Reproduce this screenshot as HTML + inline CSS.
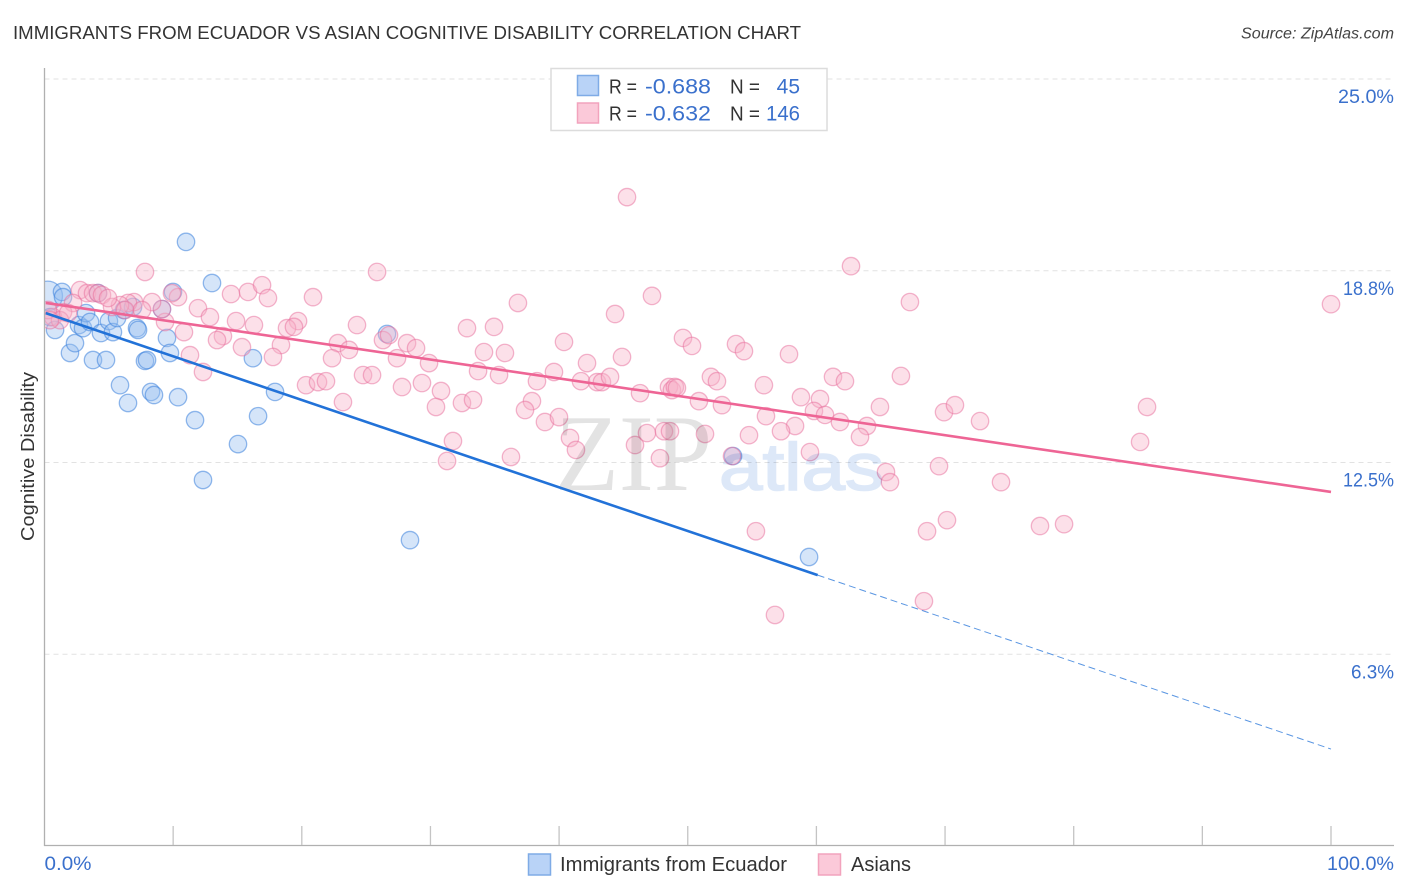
<!DOCTYPE html>
<html lang="en">
<head>
<meta charset="utf-8">
<title>Immigrants from Ecuador vs Asian Cognitive Disability Correlation Chart</title>
<style>
html,body{margin:0;padding:0;background:#fff;width:1406px;height:892px;overflow:hidden}
svg{display:block}
text{font-family:"Liberation Sans",sans-serif}
</style>
</head>
<body>
<svg id="chart" width="1406" height="892" viewBox="0 0 1406 892" xmlns="http://www.w3.org/2000/svg">
  <defs><clipPath id="plot-clip"><rect x="44.5" y="60" width="1350" height="786"/></clipPath></defs>
  <rect x="0" y="0" width="1406" height="892" fill="#fff"/>
  <text x="13" y="39" font-size="18.5" fill="#333" textLength="788" lengthAdjust="spacingAndGlyphs">IMMIGRANTS FROM ECUADOR VS ASIAN COGNITIVE DISABILITY CORRELATION CHART</text>
  <text x="1394" y="38.500" font-size="15.500" font-style="italic" fill="#444" text-anchor="end" textLength="153" lengthAdjust="spacingAndGlyphs">Source: ZipAtlas.com</text>
  <g id="grid"></g>
  <g id="points" clip-path="url(#plot-clip)"></g>
  <g style="mix-blend-mode:multiply">
    <text x="555" y="490" font-size="109" fill="#e3e3e3" textLength="157" lengthAdjust="spacingAndGlyphs" style="font-family:'Liberation Serif',serif">ZIP</text>
    <text x="719" y="490" font-size="67" fill="#dde8f8" stroke="#dde8f8" stroke-width="1.6" textLength="165" lengthAdjust="spacingAndGlyphs">atlas</text>
  </g>
  <g id="trends"></g>
  <g id="axes"></g>
  <text transform="translate(34 541) rotate(-90)" font-size="18.500" fill="#333" textLength="169" lengthAdjust="spacingAndGlyphs">Cognitive Disability</text>

  <g>
    <rect x="551" y="68.500" width="276" height="62" fill="#fff" stroke="#dcdcdc" stroke-width="1.500"/>
    <rect x="577.500" y="75.500" width="21" height="20" fill="#b9d3f7" stroke="#7fabe6" stroke-width="1.500"/>
    <rect x="577.500" y="103" width="21" height="20" fill="#fbc9d9" stroke="#f2a3bd" stroke-width="1.500"/>
    <text x="609" y="93.500" font-size="20" fill="#333" textLength="28" lengthAdjust="spacingAndGlyphs">R =</text>
    <text x="711" y="93.500" font-size="21" fill="#3a70cc" text-anchor="end" textLength="66" lengthAdjust="spacingAndGlyphs">-0.688</text>
    <text x="730" y="93.500" font-size="20" fill="#333" textLength="30" lengthAdjust="spacingAndGlyphs">N =</text>
    <text x="800" y="93.500" font-size="21" fill="#3a70cc" text-anchor="end">45</text>
    <text x="609" y="120.500" font-size="20" fill="#333" textLength="28" lengthAdjust="spacingAndGlyphs">R =</text>
    <text x="711" y="120.500" font-size="21" fill="#3a70cc" text-anchor="end" textLength="66" lengthAdjust="spacingAndGlyphs">-0.632</text>
    <text x="730" y="120.500" font-size="20" fill="#333" textLength="30" lengthAdjust="spacingAndGlyphs">N =</text>
    <text x="800" y="120.500" font-size="21" fill="#3a70cc" text-anchor="end" textLength="34" lengthAdjust="spacingAndGlyphs">146</text>
  </g>

  <g>
    <rect x="528.500" y="854" width="22" height="21" fill="#b9d3f7" stroke="#7fabe6" stroke-width="1.500"/>
    <text x="560" y="871" font-size="20" fill="#333" textLength="227" lengthAdjust="spacingAndGlyphs">Immigrants from Ecuador</text>
    <rect x="818.500" y="854" width="22" height="21" fill="#fbc9d9" stroke="#f2a3bd" stroke-width="1.500"/>
    <text x="851" y="871" font-size="20" fill="#333" textLength="60" lengthAdjust="spacingAndGlyphs">Asians</text>
  </g>
</svg>
<script>
const ecuadorX = [0.25,0.43,1.36,1.44,0.82,1.98,2.37,2.68,2.99,3.23,3.54,3.77,4.16,4.39,4.78,5.01,5.32,5.64,5.87,6.18,6.49,6.88,7.19,7.27,7.81,7.97,8.28,8.51,9.13,9.52,9.75,9.99,10.38,11.0,11.7,12.32,13.02,15.04,16.2,16.6,17.92,26.62,28.41,53.52,59.43];
const ecuadorY = [17.93,17.24,18.06,17.89,16.82,16.07,16.39,16.98,16.88,17.37,17.08,15.84,18.02,16.72,15.84,17.11,16.75,17.21,15.02,17.47,14.44,17.57,16.88,16.82,15.81,15.84,14.8,14.7,17.5,16.56,16.07,18.06,14.63,19.69,13.88,11.93,18.35,13.1,15.9,14.01,14.8,16.69,9.97,12.71,9.42];
const ecuadorWeights = [1.7];
const asiansX = [7.81,2.76,3.3,3.77,4.16,4.47,14.5,15.82,16.91,17.37,20.87,10.38,9.91,11.93,12.86,14.89,16.28,19.71,18.85,19.39,13.87,13.41,10.84,9.37,9.13,8.36,6.96,6.49,5.87,5.25,6.26,7.58,2.22,4.94,1.44,0.66,1.2,0.27,1.83,0.43,22.81,22.35,23.67,18.38,17.76,15.35,11.31,12.32,20.33,21.26,21.88,23.2,24.29,25.85,26.31,26.78,28.18,28.88,27.4,29.89,24.76,25.46,27.79,29.34,30.82,30.43,32.45,33.31,31.75,31.29,36.26,32.84,34.94,34.16,35.79,33.7,35.33,36.8,44.35,47.22,40.38,42.17,44.89,39.6,38.28,41.7,42.95,43.33,43.96,46.29,48.54,48.77,37.89,37.35,38.9,39.99,40.85,41.31,45.9,46.83,48.15,47.84,67.27,49.63,50.33,53.75,54.37,57.87,51.8,52.27,49.0,49.16,55.92,50.87,52.66,61.29,62.22,66.57,58.8,60.28,59.81,60.67,61.83,64.94,63.93,63.39,69.92,70.77,72.72,56.08,58.34,57.25,54.76,51.34,48.62,53.44,59.5,65.41,65.72,69.53,55.3,68.6,70.15,45.28,62.69,100,85.7,85.16,74.35,77.38,79.25,68.36,56.78];
const asiansY = [18.71,18.12,18.02,18.02,18.02,17.96,17.99,18.06,18.28,17.86,17.89,17.89,18.02,17.53,17.24,17.11,16.98,17.11,16.88,16.92,16.62,16.49,16.75,17.08,17.5,17.73,17.73,17.7,17.63,17.57,17.47,17.47,17.7,17.86,17.4,17.24,17.14,17.47,17.37,17.14,16.39,15.9,16.17,16.33,15.94,16.26,16.0,15.45,15.02,15.12,15.15,14.47,16.98,18.71,16.49,16.65,16.39,16.23,15.9,15.74,15.35,15.35,14.96,15.09,14.83,14.31,14.44,14.54,13.2,12.55,12.68,16.88,16.92,16.1,16.07,15.48,15.35,17.7,17.34,17.93,16.43,15.74,15.94,15.45,15.15,15.15,15.12,15.12,15.29,14.76,14.96,14.86,14.5,14.21,13.82,13.98,13.3,12.91,13.07,13.46,13.52,12.64,17.73,16.56,16.3,16.36,16.13,16.03,15.29,15.15,14.96,14.93,15.02,14.5,14.37,15.29,15.15,15.32,14.63,14.57,14.18,14.05,13.82,14.31,13.69,13.33,14.14,14.37,13.85,14.01,13.69,13.52,13.39,13.43,13.52,12.71,12.84,12.19,11.86,12.38,10.26,10.26,10.62,21.15,18.9,17.66,14.31,13.17,11.86,10.43,10.49,7.98,7.53];
const ecuadorTrendX = [0.1, 60.1];
const ecuadorTrendY = [17.37, 8.83];
const ecuadorDashX = [60.1, 100];
const ecuadorDashY = [8.83, 3.16];
const asiansTrendX = [0.1, 100];
const asiansTrendY = [17.7, 11.54];
const yTickValues = [25, 18.75, 12.5, 6.25];
const yTickLabels = ["25.0%", "18.8%", "12.5%", "6.3%"];
const xTickValues = [0, 10, 20, 30, 40, 50, 60, 70, 80, 90, 100];
const xEndValues = [0, 100];
const xEndLabels = ["0.0%", "100.0%"];

const NS = "http://www.w3.org/2000/svg";
function xScale(v) { return 44.5 + v * 12.865; }
function yScale(v) { return 79 + (25 - v) * 30.68; }
function make(tag, attrs, parent) {
  const el = document.createElementNS(NS, tag);
  for (const k in attrs) el.setAttribute(k, attrs[k]);
  parent.appendChild(el);
  return el;
}
const grid = document.getElementById("grid");
const axes = document.getElementById("axes");
const pts = document.getElementById("points");
const trends = document.getElementById("trends");

yTickValues.forEach(function (v, i) {
  const line = make("line", {x1: 44.5, x2: 1394, y1: yScale(v), y2: yScale(v), stroke: "#e2e2e2", "stroke-width": 1, "stroke-dasharray": "5 4"}, grid);
  
  
  const label = make("text", {x: 1394, y: yScale(v) + 24, "font-size": 19.5, fill: "#3a70cc", "text-anchor": "end", textLength: yTickLabels[i].charAt(0) === "1" ? 51 : (yTickLabels[i].length === 4 ? 43 : 56), lengthAdjust: "spacingAndGlyphs"}, axes);
  
  
  label.textContent = yTickLabels[i];
});

ecuadorX.forEach(function (x, i) {
  const c = make("circle", {cx: xScale(x), cy: yScale(ecuadorY[i]), r: 8.7 * (ecuadorWeights[i] || 1), fill: "rgba(150,190,240,0.4)", stroke: "rgba(60,130,220,0.55)", "stroke-width": 1.3}, pts);
  
  
});
asiansX.forEach(function (x, i) {
  const c = make("circle", {cx: xScale(x), cy: yScale(asiansY[i]), r: 8.7, fill: "rgba(248,178,200,0.4)", stroke: "rgba(232,110,155,0.5)", "stroke-width": 1.3}, pts);
  
  
});

const asiansLine = make("line", {x1: xScale(asiansTrendX[0]), y1: yScale(asiansTrendY[0]), x2: xScale(asiansTrendX[1]), y2: yScale(asiansTrendY[1]), stroke: "#ee6595", "stroke-width": 2.6}, trends);


const ecuadorLine = make("line", {x1: xScale(ecuadorTrendX[0]), y1: yScale(ecuadorTrendY[0]), x2: xScale(ecuadorTrendX[1]), y2: yScale(ecuadorTrendY[1]), stroke: "#2272d8", "stroke-width": 2.6}, trends);


const ecuadorDash = make("line", {x1: xScale(ecuadorDashX[0]), y1: yScale(ecuadorDashY[0]), x2: xScale(ecuadorDashX[1]), y2: yScale(ecuadorDashY[1]), stroke: "#5a96e2", "stroke-width": 1, "stroke-dasharray": "7 4"}, trends);



const yAxis = make("line", {x1: 44.5, x2: 44.5, y1: 68, y2: 846, stroke: "#b0b0b0", "stroke-width": 1.3}, axes);


const xAxis = make("line", {x1: 44, x2: 1394, y1: 845.5, y2: 845.5, stroke: "#b0b0b0", "stroke-width": 1.3}, axes);


xTickValues.forEach(function (v) {
  if (v === 0) return;
  const t = make("line", {x1: xScale(v), x2: xScale(v), y1: 826, y2: 845, stroke: "#c4c4c4", "stroke-width": 1.3}, axes);
  
  
});
xEndValues.forEach(function (v, i) {
  const label = make("text", {x: v === 0 ? xScale(v) : 1394, y: 870, "font-size": 19.5, fill: "#3a70cc", "text-anchor": v === 0 ? "start" : "end", textLength: v === 0 ? 47 : 67, lengthAdjust: "spacingAndGlyphs"}, axes);
  
  
  label.textContent = xEndLabels[i];
});
</script>
</body>
</html>
